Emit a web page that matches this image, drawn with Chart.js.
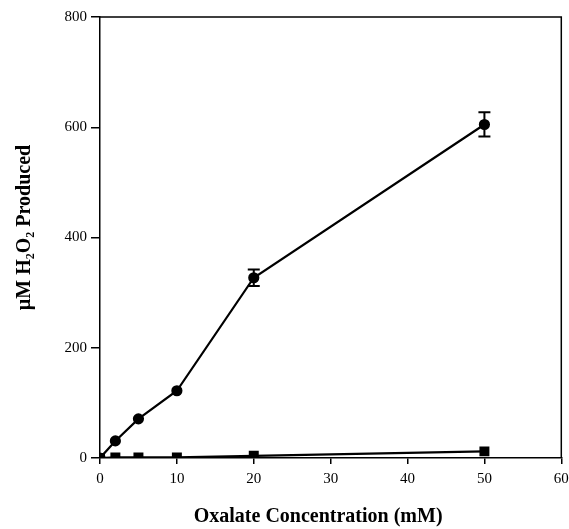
<!DOCTYPE html>
<html>
<head>
<meta charset="utf-8">
<script src="https://cdn.jsdelivr.net/npm/chart.js@4.4.1/dist/chart.umd.min.js"></script>
<style>
  html, body { margin: 0; padding: 0; background: #fff; }
  #wrap { width: 569px; height: 529px; }
</style>
</head>
<body>
<div id="wrap"><canvas id="chart"></canvas></div>
<script>
// oxalate concentration (mM)
const concentrations = [0, 2, 5, 10, 20, 50]
// H2O2 produced (µM)
const withEnzyme = [0, 31, 71, 122, 327, 605]
const withEnzymeErr = [0, 0, 0, 0, 15, 22]
const control = [0, 1, 1, 1, 4, 12]

const xTicks = [0, 10, 20, 30, 40, 50, 60]
const yTicks = [0, 200, 400, 600, 800]

const serif = "'Liberation Serif', 'Times New Roman', serif"

function toPoints(xs, ys) {
  return xs.map((x, i) => ({ x: x, y: ys[i] }))
}

// barras de erro desenhadas a partir das escalas
const errorBars = {
  id: "errorBars",
  afterDatasetsDraw(chart) {
    const ctx = chart.ctx
    const xs = chart.scales.x
    const ys = chart.scales.y
    ctx.save()
    ctx.strokeStyle = "#000"
    ctx.lineWidth = 2
    concentrations.forEach((c, i) => {
      const err = withEnzymeErr[i]
      if (!err) return
      const px = xs.getPixelForValue(c)
      const top = ys.getPixelForValue(withEnzyme[i] + err)
      const bot = ys.getPixelForValue(withEnzyme[i] - err)
      ctx.beginPath()
      ctx.moveTo(px, top)
      ctx.lineTo(px, bot)
      ctx.moveTo(px - 6, top)
      ctx.lineTo(px + 6, top)
      ctx.moveTo(px - 6, bot)
      ctx.lineTo(px + 6, bot)
      ctx.stroke()
    })
    ctx.restore()
  },
}

// fecha a caixa (borda superior e direita)
const frame = {
  id: "frame",
  beforeDatasetsDraw(chart) {
    const { ctx, chartArea } = chart
    ctx.save()
    ctx.strokeStyle = "#000"
    ctx.lineWidth = 1.5
    ctx.beginPath()
    ctx.moveTo(chartArea.left, chartArea.top)
    ctx.lineTo(chartArea.right, chartArea.top)
    ctx.lineTo(chartArea.right, chartArea.bottom)
    ctx.stroke()
    ctx.restore()
  },
}

const ctx = document.getElementById("chart").getContext("2d")

new Chart(ctx, {
  type: "scatter",
  data: {
    datasets: [
      {
        label: "Com enzima",
        data: toPoints(concentrations, withEnzyme),
        showLine: true,
        borderColor: "#000",
        backgroundColor: "#000",
        borderWidth: 2.2,
        pointStyle: "circle",
        pointRadius: 4.5,
      },
      {
        label: "Controle",
        data: toPoints(concentrations, control),
        showLine: true,
        borderColor: "#000",
        backgroundColor: "#000",
        borderWidth: 2.2,
        pointStyle: "rect",
        pointRadius: 5.5,
      },
    ],
  },
  options: {
    responsive: true,
    maintainAspectRatio: false,
    animation: false,
    layout: { padding: { left: 0, right: 7, top: 17, bottom: 0 } },
    plugins: {
      legend: { display: false },
      tooltip: { enabled: false },
    },
    scales: {
      x: {
        type: "linear",
        min: 0,
        max: 60,
        afterBuildTicks: (scale) => {
          scale.ticks = xTicks.map((v) => ({ value: v }))
        },
        afterFit: (scale) => {
          scale.height = 71
          scale.paddingLeft = 0
          scale.paddingRight = 0
        },
        ticks: {
          color: "#000",
          font: { family: serif, size: 15 },
          padding: 6,
          maxRotation: 0,
        },
        grid: {
          drawOnChartArea: false,
          color: "#000",
          lineWidth: 1.5,
          tickLength: 6,
        },
        border: { color: "#000", width: 1.5 },
        title: {
          display: true,
          // espaços no fim deslocam o título um pouco para a esquerda
          text: "Oxalate Concentration (mM)\u00a0\u00a0\u00a0\u00a0\u00a0",
          color: "#000",
          font: { family: serif, size: 20, weight: "bold" },
          padding: { top: 0, bottom: 0 },
        },
      },
      y: {
        type: "linear",
        min: 0,
        max: 800,
        afterBuildTicks: (scale) => {
          scale.ticks = yTicks.map((v) => ({ value: v }))
        },
        afterFit: (scale) => {
          scale.width = 100
          scale.paddingTop = 0
          scale.paddingBottom = 0
        },
        ticks: {
          color: "#000",
          font: { family: serif, size: 15 },
          padding: 4,
        },
        grid: {
          drawOnChartArea: false,
          color: "#000",
          lineWidth: 1.5,
          tickLength: 9,
        },
        border: { color: "#000", width: 1.5 },
        title: {
          display: true,
          // espaços no início sobem o título rotacionado
          text: "\u00a0\u00a0\u00a0\u00a0µM H₂O₂ Produced",
          color: "#000",
          font: { family: serif, size: 20, weight: "bold" },
          padding: { top: 13, bottom: 0 },
        },
      },
    },
  },
  plugins: [frame, errorBars],
})
</script>
</body>
</html>
